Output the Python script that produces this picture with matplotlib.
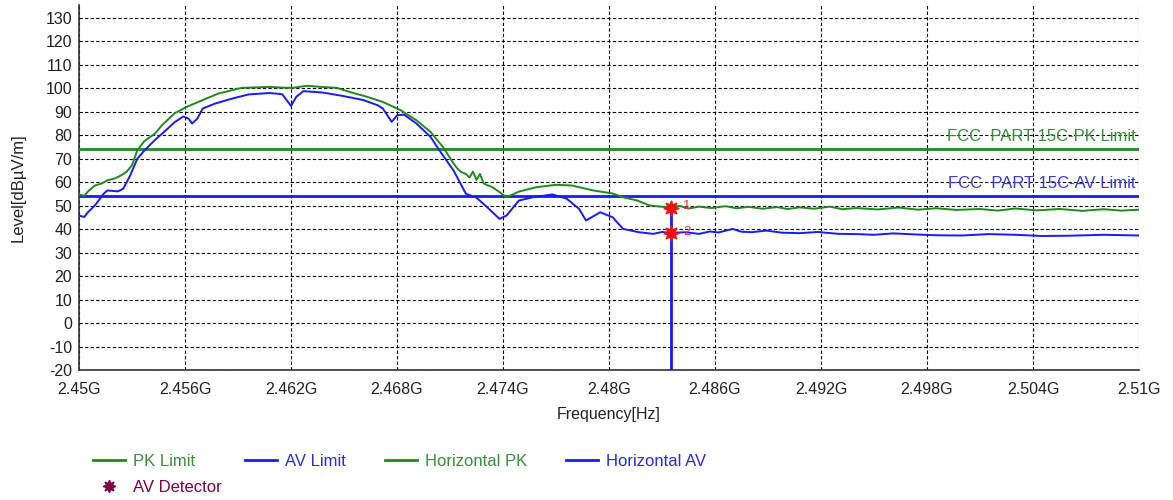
import matplotlib
matplotlib.use("Agg")
import matplotlib.pyplot as plt
from matplotlib.lines import Line2D
from matplotlib.ticker import FixedLocator, FuncFormatter

plt.rcParams['font.family'] = ['Liberation Sans', 'DejaVu Sans']

# ---------------- data ----------------
pk_freq_ghz = [2.4500, 2.4503, 2.4505, 2.4509, 2.4513, 2.4516, 2.4520, 2.4524, 2.4527, 2.4530,
               2.4533, 2.4537, 2.4539, 2.4543, 2.4547, 2.4554, 2.4561, 2.4570, 2.4579, 2.4592,
               2.4600, 2.4608, 2.4615, 2.4621, 2.4629, 2.4637, 2.4646, 2.4653, 2.4663, 2.4672,
               2.4682, 2.4691, 2.4699, 2.4706, 2.4712, 2.4714, 2.4716, 2.4719, 2.4721, 2.4723,
               2.4725, 2.4727, 2.4729, 2.4731, 2.4734, 2.4738, 2.4742, 2.4749, 2.4759, 2.4770,
               2.4779, 2.4791, 2.4802, 2.4808, 2.4816, 2.4823, 2.4829, 2.4835, 2.4840, 2.4845,
               2.4851, 2.4858, 2.4866, 2.4872, 2.4879, 2.4887, 2.4895, 2.4901, 2.4908, 2.4916,
               2.4925, 2.4932, 2.4940, 2.4952, 2.4964, 2.4975, 2.4985, 2.4997, 2.5010, 2.5020,
               2.5030, 2.5042, 2.5055, 2.5068, 2.5080, 2.5090, 2.5100]
pk_level = [54.8, 54.2, 56.0, 58.6, 59.5, 60.8, 61.5, 63.0, 64.5, 67.2,
            73.6, 77.5, 78.6, 80.7, 84.3, 89.3, 92.1, 95.0, 97.8, 100.2,
            100.4, 100.6, 100.3, 100.2, 101.1, 100.6, 100.2, 98.5, 96.4, 94.2,
            90.7, 86.4, 81.4, 75.0, 68.0, 66.0, 64.5, 63.5, 62.0, 64.5,
            61.0, 63.5, 59.5, 58.8, 57.9, 55.8, 53.6, 56.0, 57.9, 58.9,
            58.6, 56.5, 55.2, 53.6, 52.2, 50.1, 49.6, 49.3, 49.9, 48.8,
            49.6, 49.0, 49.8, 48.9, 49.5, 48.7, 49.4, 48.6, 49.3, 48.7,
            49.6, 48.5, 49.0, 48.4, 49.2, 48.3, 48.9, 48.2, 48.6, 47.9,
            48.8, 48.0, 48.6, 47.8, 48.5, 47.9, 48.3]

av_freq_ghz = [2.4500, 2.4503, 2.4505, 2.4509, 2.4514, 2.4516, 2.4522, 2.4525, 2.4529, 2.4533,
               2.4537, 2.4543, 2.4549, 2.4554, 2.4559, 2.4562, 2.4564, 2.4567, 2.4570, 2.4577,
               2.4587, 2.4596, 2.4608, 2.4615, 2.4620, 2.4623, 2.4627, 2.4638, 2.4649, 2.4661,
               2.4669, 2.4672, 2.4677, 2.4680, 2.4684, 2.4691, 2.4699, 2.4704, 2.4712, 2.4719,
               2.4725, 2.4731, 2.4738, 2.4742, 2.4749, 2.4757, 2.4768, 2.4776, 2.4783, 2.4787,
               2.4795, 2.4802, 2.4808, 2.4817, 2.4825, 2.4830, 2.4835, 2.4843, 2.4851, 2.4857,
               2.4862, 2.4870, 2.4875, 2.4881, 2.4889, 2.4898, 2.4908, 2.4918, 2.4930, 2.4940,
               2.4950, 2.4961, 2.4972, 2.4985, 2.5000, 2.5015, 2.5030, 2.5045, 2.5060, 2.5080,
               2.5100]
av_level = [45.8, 45.2, 47.2, 50.1, 55.1, 56.5, 56.1, 57.2, 62.9, 70.0,
            73.5, 78.0, 82.0, 85.5, 88.0, 87.1, 85.0, 87.1, 91.4, 93.5,
            95.7, 97.4, 98.0, 97.5, 92.5, 96.4, 98.8, 98.2, 96.8, 95.0,
            92.8, 91.4, 85.7, 88.5, 88.8, 85.0, 79.3, 73.6, 65.0, 55.1,
            53.4, 49.4, 44.4, 45.8, 52.2, 53.6, 54.8, 53.0, 48.7, 43.7,
            47.2, 45.1, 40.1, 38.7, 38.0, 38.8, 38.4, 38.7, 38.0, 39.0,
            38.6, 40.1, 38.9, 38.7, 39.4, 38.5, 38.3, 38.8, 38.0, 37.9,
            37.6, 38.2, 37.8, 37.4, 37.3, 37.9, 37.6, 37.1, 37.2, 37.6,
            37.3]

pk_limit = 74
av_limit = 54

detector_freq_ghz = [2.4835, 2.4835]
detector_level = [49.2, 38.2]
detector_labels = ["1", "2"]

x_ticks_ghz = [2.45, 2.456, 2.462, 2.468, 2.474, 2.48, 2.486, 2.492, 2.498, 2.504, 2.51]
y_ticks = list(range(-20, 131, 10))

GREEN = '#1f8a1f'
BLUE = '#1a1aff'

# ---------------- figure ----------------
fig = plt.figure(figsize=(11.73, 5.0), dpi=100)
ax = fig.add_axes([79 / 1173, 1 - 370 / 500, (1139 - 79) / 1173, (370 - 5) / 500])

ax.set_xlim(2.45, 2.51)
ax.set_ylim(-20, 135.5)

ax.xaxis.set_major_locator(FixedLocator(x_ticks_ghz))
ax.yaxis.set_major_locator(FixedLocator(y_ticks))
ax.xaxis.set_major_formatter(FuncFormatter(lambda v, p: f"{v:g}G"))
ax.yaxis.set_major_formatter(FuncFormatter(lambda v, p: f"{int(round(v))}"))
ax.tick_params(axis='both', length=0, labelsize=11.5, colors='#222222', pad=5)
ax.tick_params(axis='x', pad=9)

ax.grid(True, color='black', linestyle=(0, (3, 2)), linewidth=0.8)
ax.set_axisbelow(True)
for s in ['top', 'right']:
    ax.spines[s].set_visible(False)
for s in ['left', 'bottom']:
    ax.spines[s].set_color('#333333')
    ax.spines[s].set_linewidth(1.2)

# limit lines
ax.axhline(pk_limit, color=GREEN, linewidth=2, zorder=3)
ax.axhline(av_limit, color=BLUE, linewidth=2, zorder=3)
ax.text(2.5098, 79.5, "FCC  PART 15C-PK Limit", color='#3a8f3a', fontsize=12,
        ha='right', va='center', zorder=4)
ax.text(2.5098, 59.5, "FCC  PART 15C-AV Limit", color='#3a3adf', fontsize=12,
        ha='right', va='center', zorder=4)

# traces
ax.plot(pk_freq_ghz, pk_level, color=GREEN, linewidth=1.4, zorder=5)
ax.plot(av_freq_ghz, av_level, color=BLUE, linewidth=1.4, zorder=5)

# detector line + markers
ax.plot([detector_freq_ghz[0], detector_freq_ghz[0]], [-20, detector_level[0]],
        color=BLUE, linewidth=2, zorder=6)
ax.plot(detector_freq_ghz, detector_level, linestyle='none', marker=(8, 1, 0),
        markersize=11, color='#ee1111', zorder=7)
for f, lv, lab in zip(detector_freq_ghz, detector_level, detector_labels):
    ax.text(f + 0.0007, lv + 0.8, lab, color='#ee3333', fontsize=9.5, ha='left',
            va='center', zorder=7)

ax.set_xlabel("Frequency[Hz]", fontsize=11.5, color='#222222', labelpad=7)
ax.set_ylabel("Level[dBµV/m]", fontsize=12, color='#222222', labelpad=14)

# legend (one entry per slot, placed like the reference)
entries = [
    (Line2D([], [], color=GREEN, linewidth=2), "PK Limit", '#3a8f3a', 93, 461),
    (Line2D([], [], color=BLUE, linewidth=2), "AV Limit", '#2a2adf', 245, 461),
    (Line2D([], [], color=GREEN, linewidth=2), "Horizontal PK", '#3a8f3a', 385, 461),
    (Line2D([], [], color=BLUE, linewidth=2), "Horizontal AV", '#2a2adf', 566, 461),
    (Line2D([], [], linestyle='none', marker=(8, 1, 0), markersize=9, color='#800040'),
     "AV Detector", '#800040', 93, 487),
]
for h, lab, col, px, py in entries:
    lg = fig.legend([h], [lab], loc='center left',
                    bbox_to_anchor=(px / 1173, 1 - py / 500),
                    frameon=False, fontsize=12, handlelength=1.92, handletextpad=0.5,
                    borderaxespad=0, borderpad=0)
    lg.get_texts()[0].set_color(col)

fig.savefig("out.png", dpi=100)
